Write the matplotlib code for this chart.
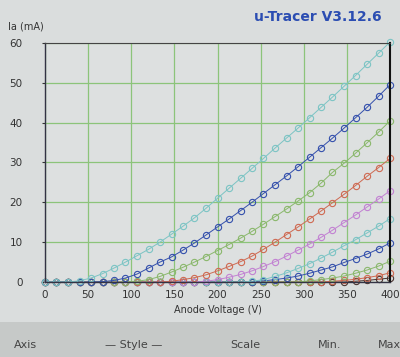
import matplotlib.pyplot as plt
from matplotlib.patches import Rectangle

# anode voltage sweep (V), 31 steps
va = [0, 13.3, 26.7, 40, 53.3, 66.7, 80, 93.3, 106.7, 120, 133.3, 146.7, 160, 173.3, 186.7,
      200, 213.3, 226.7, 240, 253.3, 266.7, 280, 293.3, 306.7, 320, 333.3, 346.7, 360,
      373.3, 386.7, 400]

# anode current (mA), one list per grid step
ia_1 = [0, 0, 0, 0.3, 1.0, 2.1, 3.5, 5.0, 6.6, 8.2, 10.0, 12.0, 14.0, 16.1, 18.5,
        21.0, 23.5, 26.0, 28.5, 31.0, 33.6, 36.1, 38.6, 41.2, 43.8, 46.4, 49.1, 51.8, 54.6, 57.4, 60.2]
ia_2 = [0, 0, 0, 0, 0, 0.1, 0.4, 1.0, 2.0, 3.5, 5.0, 6.3, 8.0, 9.8, 11.8,
        13.8, 15.8, 17.9, 20.0, 22.2, 24.4, 26.6, 28.9, 31.3, 33.7, 36.1, 38.6, 41.2, 43.8, 46.6, 49.5]
ia_3 = [0, 0, 0, 0, 0, 0, 0, 0, 0.2, 0.6, 1.4, 2.5, 3.7, 5.0, 6.4,
        7.9, 9.4, 11.0, 12.7, 14.5, 16.4, 18.3, 20.3, 22.4, 24.8, 27.5, 29.8, 32.3, 34.9, 37.6, 40.4]
ia_4 = [0, 0, 0, 0, 0, 0, 0, 0, 0, 0, 0, 0.2, 0.6, 1.1, 1.8,
        2.8, 3.9, 5.1, 6.5, 8.2, 10.0, 11.9, 13.8, 15.8, 17.8, 19.9, 22.0, 24.2, 26.5, 28.7, 31.0]
ia_5 = [0, 0, 0, 0, 0, 0, 0, 0, 0, 0, 0, 0, 0, 0, 0.2,
        0.6, 1.2, 1.9, 2.8, 3.9, 5.1, 6.5, 8.0, 9.5, 11.2, 13.0, 14.9, 16.8, 18.8, 20.8, 22.9]
ia_6 = [0, 0, 0, 0, 0, 0, 0, 0, 0, 0, 0, 0, 0, 0, 0,
        0, 0, 0, 0.2, 0.6, 1.4, 2.3, 3.4, 4.6, 6.0, 7.5, 9.1, 10.6, 12.3, 14.0, 15.9]
ia_7 = [0, 0, 0, 0, 0, 0, 0, 0, 0, 0, 0, 0, 0, 0, 0,
        0, 0, 0, 0.1, 0.3, 0.6, 1.0, 1.5, 2.2, 3.0, 3.8, 4.9, 5.9, 7.0, 8.3, 9.8]
ia_8 = [0, 0, 0, 0, 0, 0, 0, 0, 0, 0, 0, 0, 0, 0, 0,
        0, 0, 0, 0, 0, 0, 0, 0, 0.3, 0.6, 1.0, 1.5, 2.2, 3.0, 4.0, 5.2]
ia_9 = [0, 0, 0, 0, 0, 0, 0, 0, 0, 0, 0, 0, 0, 0, 0,
        0, 0, 0, 0, 0, 0, 0, 0, 0, 0, 0.2, 0.4, 0.7, 1.1, 1.6, 2.3]
ia_10 = [0, 0, 0, 0, 0, 0, 0, 0, 0, 0, 0, 0, 0, 0, 0,
         0, 0, 0, 0, 0, 0, 0, 0, 0, 0, 0, 0, 0.2, 0.4, 0.7, 1.0]

curves = [ia_1, ia_2, ia_3, ia_4, ia_5, ia_6, ia_7, ia_8, ia_9, ia_10]
colors = ['#7cc4c4', '#3450ac', '#8ab86c', '#cf6a52', '#c282d2',
          '#7cc4c4', '#3450ac', '#8ab86c', '#cf6a52', '#4a3430']

xticks = [0, 50, 100, 150, 200, 250, 300, 350, 400]
yticks = [0, 10, 20, 30, 40, 50, 60]

fig = plt.figure(figsize=(4, 3.57), dpi=100, facecolor='#dadddd')
fig.patches.append(Rectangle((0, 0), 1, 0.098, transform=fig.transFigure,
                             facecolor='#c6c9c8', edgecolor='none', zorder=0))

ax = fig.add_axes([0.1125, 0.21, 0.8625, 0.67])
ax.set_facecolor('#dde0e0')

# draw from the bottom curve up so the upper ones sit on top
for ia, c in reversed(list(zip(curves, colors))):
    ax.plot(va, ia, '-o', color=c, lw=0.7, ms=4.5, mfc='none', mec=c, mew=0.8, clip_on=False)

ax.set_xlim(0, 400)
ax.set_ylim(0, 60)
ax.set_xticks(xticks)
ax.set_yticks(yticks)
ax.grid(True, color='#8cc47a', lw=0.9)
ax.set_axisbelow(True)
ax.tick_params(axis='x', labelsize=7.5, colors='#333333', length=0, pad=6)
ax.tick_params(axis='y', labelsize=7.5, colors='#333333', length=2, width=0.8, pad=14)
for s in ['left', 'bottom']:
    ax.spines[s].set_color('#333344')
    ax.spines[s].set_linewidth(1.0)
ax.spines['top'].set_color('#444444')
ax.spines['top'].set_linewidth(0.8)
ax.spines['right'].set_color('#111111')
ax.spines['right'].set_linewidth(1.5)

ax.set_xlabel('Anode Voltage (V)', fontsize=7, color='#333333', labelpad=3)
fig.text(0.02, 0.925, 'Ia (mA)', fontsize=7, color='#333333', va='center')
fig.text(0.955, 0.952, 'u-Tracer V3.12.6', fontsize=10, fontweight='bold',
         color='#2b4db2', ha='right', va='center')

# control panel labels under the plot
fig.text(0.035, 0.034, 'Axis', fontsize=8, color='#444444', va='center')
fig.text(0.333, 0.034, '\u2014 Style \u2014', fontsize=8, color='#444444', va='center', ha='center')
fig.text(0.613, 0.034, 'Scale', fontsize=8, color='#444444', va='center', ha='center')
fig.text(0.825, 0.034, 'Min.', fontsize=8, color='#444444', va='center', ha='center')
fig.text(0.945, 0.034, 'Max', fontsize=8, color='#444444', va='center')

fig.savefig('out.png', dpi=100, facecolor=fig.get_facecolor())
